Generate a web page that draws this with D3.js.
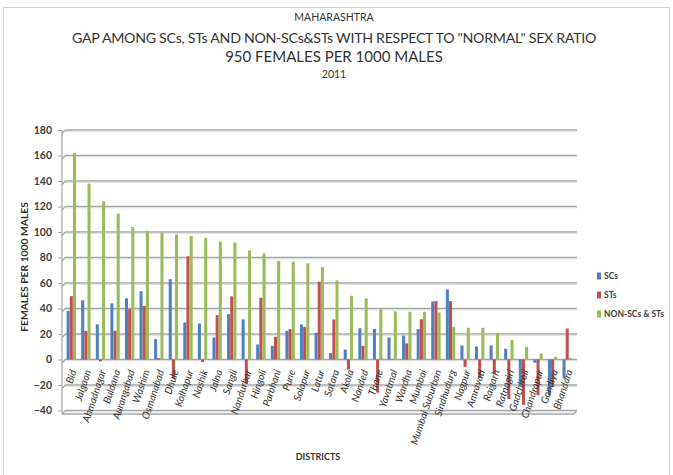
<!DOCTYPE html>
<html>
<head>
<meta charset="utf-8">
<script src="https://cdn.jsdelivr.net/npm/d3@7/dist/d3.min.js"></script>
<style>
  html, body { margin: 0; padding: 0; background: #fff; }
  svg { display: block; font-family: Lato, "Open Sans", sans-serif; }
</style>
</head>
<body>
<svg id="chart" width="673" height="475"></svg>
<script>
// Districts of Maharashtra, ordered by the NON-SC/ST gap
const districts = ["Bid", "Jalgaon", "Ahmadnagar", "Buldana", "Aurangabad", "Washim", "Osmanabad",
  "Dhule", "Kolhapur", "Nashik", "Jalna", "Sangli", "Nandurbar", "Hingoli", "Parbhani", "Pune",
  "Solapur", "Latur", "Satara", "Akola", "Nanded", "Thane", "Yavatmal", "Wardha", "Mumbai",
  "Mumbai Suburban", "Sindhudurg", "Nagpur", "Amravati", "Raigarh", "Ratnagiri", "Gadchiroli",
  "Chandrapur", "Gondiya", "Bhandara"];

// Gap (females per 1000 males) relative to the 950 norm, 2011
const scGap = [38, 46.5, 27.5, 44, 48, 53.5, 16, 63, 29, 28.3, 17.3, 35.5, 31.5, 11.8, 10.7, 22.5,
  27.5, 21, 5, 7.8, 24.5, 24, 17.3, 18.8, 23.8, 45.5, 55, 11, 10.2, 11, 8.4, -20, -2.5, -28, -15];
const stGap = [49.7, 22.5, -1.5, 22.5, 39.5, 42, 1, -15, 81, -2, 34.8, 49.5, -18.8, 48.4, 17.8, 23.8,
  25.6, 61, 31.4, -7.8, 10.7, -26, 0.5, 12.6, 31.5, 45.8, 45.8, -5.8, -14.4, -11, -31, -35.5, -28, -21.5, 24.3];
const nonGap = [162, 138, 124, 114.5, 104, 101, 99.4, 98, 96.8, 95.5, 92.4, 91.7, 85.6, 83.2, 77.2,
  76.7, 75.4, 72.5, 62, 50, 47.9, 39.5, 37.7, 37.4, 37.4, 36.9, 25.6, 24.9, 24.9, 20.9, 15.2, 9.9, 4.7, 2.1, 1.3];

const seriesNames = ["SCs", "STs", "NON-SCs & STs"];
const seriesColors = ["#4F81BD", "#C0504D", "#9BBB59"];
const yTicks = [-40, -20, 0, 20, 40, 60, 80, 100, 120, 140, 160, 180];

const svg = d3.select("#chart");

// outer chart border
svg.append("rect").attr("x", 3.5).attr("y", 7.5).attr("width", 666).attr("height", 475)
  .attr("fill", "none").attr("stroke", "#d0d0d0");

// titles
const titles = [
  { t: "MAHARASHTRA", y: 21, s: 10.5, ls: 0 },
  { t: "GAP AMONG SCs, STs AND NON-SCs&STs WITH RESPECT TO \"NORMAL\" SEX RATIO", y: 43, s: 14.2, ls: -0.3 },
  { t: "950 FEMALES PER 1000 MALES", y: 62, s: 15, ls: 0 },
  { t: "2011", y: 78, s: 10.5, ls: 0 }
];
svg.append("g").selectAll("text").data(titles).join("text")
  .attr("x", 334).attr("y", d => d.y).attr("text-anchor", "middle")
  .attr("font-size", d => d.s).attr("letter-spacing", d => d.ls).attr("fill", "#333")
  .text(d => d.t);

const x = d3.scaleBand().domain(districts).range([64, 574.5]).paddingInner(0.34).paddingOuter(0.17);
const xs = d3.scaleBand().domain(seriesNames).range([0, x.bandwidth()]).padding(0.04);
const y = d3.scaleLinear().domain([-40, 180]).range([410.5, 130]);

const depth = 3.5;
const gx0 = 62, gx1 = 577;

// gridlines on the back wall with a short receding edge
const grid = svg.append("g");
yTicks.forEach(v => {
  const yy = y(v);
  grid.append("path")
    .attr("d", `M${gx0},${yy + depth} L${gx0 + depth},${yy} L${gx1},${yy}`)
    .attr("fill", "none").attr("stroke", "#a6a6a6").attr("stroke-width", 1.3);
  grid.append("line").attr("x1", gx0 + depth).attr("x2", gx1).attr("y1", yy + 1.3).attr("y2", yy + 1.3)
    .attr("stroke", "#dcdcdc").attr("stroke-width", 1);
});
// floor front edge
const yf = y(-40);
grid.append("path")
  .attr("d", `M${gx0},${yf + depth} L${gx1 - depth},${yf + depth} L${gx1},${yf}`)
  .attr("fill", "none").attr("stroke", "#a6a6a6").attr("stroke-width", 1.3);

// vertical axis
const yAxis = svg.append("g").attr("transform", `translate(${gx0},0)`)
  .call(d3.axisLeft(y).tickValues(yTicks).tickSize(4).tickPadding(6).tickFormat(d3.format("d")));
yAxis.select(".domain").attr("stroke", "#a6a6a6").attr("stroke-width", 1.2)
  .attr("d", `M0,${y(180)}V${y(-40) + depth}`);
yAxis.selectAll(".tick line").attr("stroke", "#a6a6a6");
yAxis.selectAll(".tick text").attr("font-size", 10.5).attr("font-weight", "bold").attr("fill", "#404040")
  .attr("font-family", "Lato, sans-serif");

// bars
const rows = districts.map((d, i) => ({ d, vals: [scGap[i], stGap[i], nonGap[i]] }));
const groups = svg.append("g").selectAll("g").data(rows).join("g")
  .attr("transform", r => `translate(${x(r.d)},0)`);
groups.selectAll("rect").data(r => r.vals.map((v, k) => ({ v, k }))).join("rect")
  .attr("x", d => xs(seriesNames[d.k]))
  .attr("width", xs.bandwidth())
  .attr("y", d => Math.min(y(d.v), y(0)))
  .attr("height", d => Math.abs(y(d.v) - y(0)))
  .attr("fill", d => seriesColors[d.k]);

// category labels
svg.append("g").selectAll("text").data(districts).join("text")
  .attr("transform", d => `translate(${x(d) + x.bandwidth() / 2 + 2},370) rotate(-72)`)
  .attr("text-anchor", "end").attr("dy", "0.35em")
  .attr("font-size", 10.2).attr("font-style", "italic").attr("fill", "#333")
  .text(d => d);

// axis titles
svg.append("text").attr("transform", "translate(28,267) rotate(-90)")
  .attr("text-anchor", "middle").attr("font-size", 10.3).attr("font-weight", "bold").attr("fill", "#333")
  .text("FEMALES PER 1000 MALES");
svg.append("text").attr("x", 318).attr("y", 460).attr("text-anchor", "middle")
  .attr("font-size", 9).attr("font-weight", "bold").attr("fill", "#333").text("DISTRICTS");

// legend
const legend = svg.append("g").attr("transform", "translate(597,276)");
const li = legend.selectAll("g").data(seriesNames).join("g")
  .attr("transform", (d, i) => `translate(0,${i * 19})`);
li.append("rect").attr("x", 0).attr("y", -3.5).attr("width", 4).attr("height", 7)
  .attr("fill", (d, i) => seriesColors[i]);
li.append("text").attr("x", 7).attr("dy", "0.35em").attr("font-size", 8.5).attr("font-weight", "bold")
  .attr("fill", "#404040").text(d => d);
</script>
</body>
</html>
